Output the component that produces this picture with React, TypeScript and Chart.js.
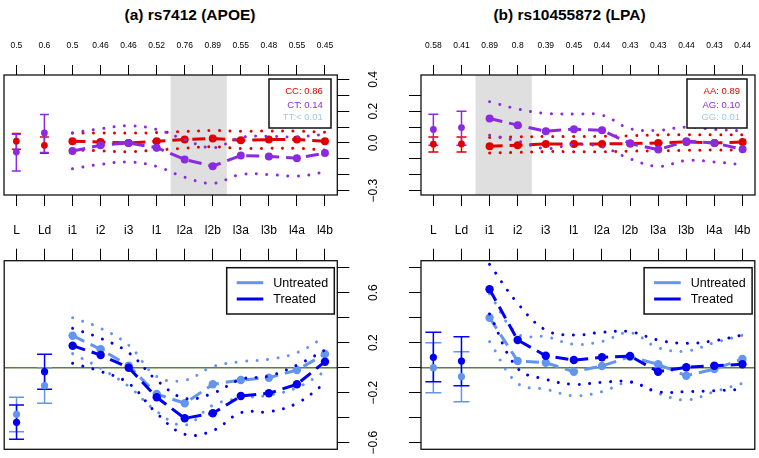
import React, { useEffect, useRef } from 'react';
import { Chart, registerables } from 'chart.js';

Chart.register(...registerables);

const FONT = '"Liberation Sans", Arial, Helvetica, sans-serif';

// ---------- shared axes ----------
const categories = ['L', 'Ld', 'i1', 'i2', 'i3', 'l1', 'l2a', 'l2b', 'l3a', 'l3b', 'l4a', 'l4b'];
const freqAPOE = ['0.5', '0.6', '0.5', '0.46', '0.46', '0.52', '0.76', '0.89', '0.55', '0.48', '0.55', '0.45'];
const freqLPA = ['0.58', '0.41', '0.89', '0.8', '0.39', '0.45', '0.44', '0.43', '0.43', '0.44', '0.43', '0.44'];

const yTicksTopLeft = [-0.3, -0.2, -0.1, 0, 0.1, 0.2, 0.3, 0.4];
const yTicksTopRight = [-0.3, -0.2, -0.1, 0, 0.1, 0.2, 0.3];
const yLabelValsTop = [0.4, 0.2, 0, -0.3];
const yLabelTextsTop = ['0.4', '0.2', '0.0', '\u22120.3'];
const yTicksBottom = [-0.6, -0.4, -0.2, 0, 0.2, 0.4, 0.6, 0.8];
const yLabelValsBottom = [0.6, 0.2, -0.2, -0.6];
const yLabelTextsBottom = ['0.6', '0.2', '\u22120.2', '\u22120.6'];

const bandAPOE = [6.5, 8.5];
const bandLPA = [2.5, 4.5];

// ---------- (a) rs7412 genotype ----------
const apoeCC = [0.011, -0.015, 0.011, 0.006, 0.0, 0.011, 0.021, 0.028, 0.017, 0.021, 0.021, 0.011];
const apoeCCErrLo = [-0.04, -0.065];
const apoeCCErrHi = [0.06, 0.038];
const apoeCCHi = [0.063, 0.063, 0.062, 0.065, 0.072, 0.078, 0.074, 0.075, 0.074, 0.068];
const apoeCCLo = [-0.043, -0.05, -0.055, -0.045, -0.033, -0.024, -0.035, -0.034, -0.034, -0.045];

const apoeCT = [-0.057, 0.063, -0.051, -0.015, 0.0, -0.03, -0.104, -0.147, -0.079, -0.085, -0.096, -0.064];
const apoeCTErrLo = [-0.177, -0.06];
const apoeCTErrHi = [0.055, 0.179];
const apoeCTHi = [0.063, 0.089, 0.108, 0.085, 0.021, -0.03, 0.034, 0.042, 0.038, 0.055];
const apoeCTLo = [-0.163, -0.135, -0.12, -0.148, -0.216, -0.254, -0.199, -0.199, -0.209, -0.184];

// ---------- (b) rs10455872 genotype ----------
const lpaAA = [-0.008, -0.006, -0.021, -0.015, -0.006, -0.006, -0.006, -0.004, 0.0, 0.006, 0.0, 0.006];
const lpaAAErrLo = [-0.057, -0.057];
const lpaAAErrHi = [0.038, 0.038];
const lpaAAHi = [0.034, 0.038, 0.04, 0.04, 0.042, 0.045, 0.05, 0.052, 0.052, 0.052];
const lpaAALo = [-0.063, -0.06, -0.055, -0.055, -0.055, -0.052, -0.05, -0.047, -0.045, -0.045];

const lpaAG = [0.085, 0.097, 0.154, 0.112, 0.074, 0.087, 0.08, -0.004, -0.042, 0.011, 0.0, -0.04];
const lpaAGErrLo = [-0.015, -0.015];
const lpaAGErrHi = [0.18, 0.2];
const lpaAGHi = [0.26, 0.214, 0.186, 0.182, 0.175, 0.09, 0.08, 0.1, 0.085, 0.076];
const lpaAGLo = [0.048, 0.012, -0.036, -0.01, -0.025, -0.1, -0.148, -0.11, -0.12, -0.137];

// ---------- (a) rs7412 treatment ----------
const apoeUnt = [-0.373, -0.144, 0.256, 0.147, 0.016, -0.211, -0.285, -0.133, -0.099, -0.08, -0.019, 0.109];
const apoeUntErrLo = [-0.512, -0.285];
const apoeUntErrHi = [-0.237, 0.0];
const apoeUntHi = [0.4, 0.315, 0.18, -0.07, -0.1, 0.008, 0.048, 0.067, 0.12, 0.248];
const apoeUntLo = [0.112, -0.005, -0.15, -0.35, -0.46, -0.3, -0.245, -0.22, -0.16, -0.03];

const apoeTrt = [-0.437, -0.032, 0.176, 0.101, 0.0, -0.237, -0.405, -0.365, -0.227, -0.205, -0.133, 0.048];
const apoeTrtErrLo = [-0.573, -0.173];
const apoeTrtErrHi = [-0.299, 0.107];
const apoeTrtHi = [0.315, 0.235, 0.12, -0.1, -0.245, -0.205, -0.093, -0.067, 0.021, 0.141];
const apoeTrtLo = [0.035, -0.03, -0.125, -0.365, -0.533, -0.504, -0.36, -0.352, -0.285, -0.125];

// ---------- (b) rs10455872 treatment ----------
const lpaUnt = [0.0, -0.072, 0.4, 0.053, 0.04, -0.032, 0.013, 0.088, 0.027, -0.064, -0.011, 0.069];
const lpaUntErrLo = [-0.2, -0.272];
const lpaUntErrHi = [0.2, 0.128];
const lpaUntHi = [0.59, 0.27, 0.248, 0.187, 0.21, 0.28, 0.16, 0.133, 0.2, 0.26];
const lpaUntLo = [0.208, -0.125, -0.173, -0.224, -0.192, -0.117, -0.205, -0.259, -0.192, -0.125];

const lpaTrt = [0.083, 0.053, 0.627, 0.221, 0.096, 0.061, 0.083, 0.093, -0.032, 0.003, 0.016, 0.027];
const lpaTrtErrLo = [-0.112, -0.144];
const lpaTrtErrHi = [0.283, 0.248];
const lpaTrtHi = [0.827, 0.515, 0.301, 0.261, 0.283, 0.288, 0.221, 0.195, 0.216, 0.261];
const lpaTrtLo = [0.43, -0.005, -0.093, -0.133, -0.117, -0.112, -0.192, -0.192, -0.184, -0.173];

// ---------- legends ----------
const genoLegendAPOE = ['CC: 0.86', 'CT: 0.14', 'TT:< 0.01'];
const genoLegendLPA = ['AA: 0.89', 'AG: 0.10', 'GG: 0.01'];
const trtLegend = ['Untreated', 'Treated'];

const RED = '#e00000';
const PURPLE = '#8a2be2';
const LBLUE = '#9fcbe6';
const UNT = '#6495ed';
const TRT = '#0000ee';
const ZERO = '#5f7f3c';
const BAND = '#dfdfdf';

type Series = {
  color: string;
  main: number[];
  errLo: number[];
  errHi: number[];
  hi: number[];
  lo: number[];
};

type PanelCfg = {
  left: number;
  top: number;
  width: number;
  height: number;
  area: { l: number; r: number; t: number; b: number };
  yMin: number;
  yMax: number;
  yTicks: number[];
  ySide: 'left' | 'right';
  yLabelVals?: number[];
  yLabelTexts?: string[];
  yLabelX?: number;
  topLabels: string[];
  topFont: number;
  topPad: number;
  topTick: number;
  bottomTicks: boolean;
  band?: number[];
  zero: boolean;
  series: Series[];
  capHalf: number;
  pointR: number;
  errPointR: number;
  legend:
    | { kind: 'geno'; texts: string[]; colors: string[]; rInset: number; tInset: number; w: number; h: number; textInset: number }
    | { kind: 'trt'; texts: string[]; colors: string[]; rInset: number; tInset: number; w: number; h: number };
};

const X_MIN = 0.56;
const X_MAX = 12.44;

function buildDatasets(cfg: PanelCfg) {
  const ds: any[] = [];
  cfg.series.forEach((s, k) => {
    const base = 50 - 10 * k;
    const inner = (arr: number[]) => arr.map((v, i) => ({ x: i + 3, y: v }));
    const dotted = {
      type: 'line',
      borderColor: s.color,
      borderWidth: 3,
      borderDash: [0.01, 10.5],
      borderCapStyle: 'round',
      pointRadius: 0,
      pointHoverRadius: 0,
      tension: 0.4,
      fill: false,
      order: base + 2,
    };
    ds.push({ ...dotted, data: inner(s.hi) });
    ds.push({ ...dotted, data: inner(s.lo) });
    ds.push({
      type: 'line',
      data: s.main.slice(2).map((v, i) => ({ x: i + 3, y: v })),
      borderColor: s.color,
      borderWidth: 3,
      borderDash: [13, 7],
      pointRadius: cfg.pointR,
      pointHoverRadius: cfg.pointR,
      pointBackgroundColor: s.color,
      pointBorderColor: s.color,
      pointBorderWidth: 0,
      tension: 0,
      fill: false,
      order: base + 1,
    });
    ds.push({
      type: 'line',
      data: s.main.slice(0, 2).map((v, i) => ({ x: i + 1, y: v })),
      showLine: false,
      pointRadius: cfg.errPointR,
      pointHoverRadius: cfg.errPointR,
      pointBackgroundColor: s.color,
      pointBorderColor: s.color,
      pointBorderWidth: 0,
      order: base,
    });
  });
  return ds;
}

function Panel({ cfg }: { cfg: PanelCfg }) {
  const ref = useRef<HTMLCanvasElement | null>(null);
  useEffect(() => {
    const canvas = ref.current;
    if (!canvas) return;
    const catTicks = (s: any) => {
      s.ticks = categories.map((_, i) => ({ value: i + 1 }));
    };
    const plugin = {
      id: 'panelDecor',
      beforeDatasetsDraw(chart: any) {
        const { ctx, chartArea: a, scales } = chart;
        const xs = scales.x;
        const ys = scales.y;
        ctx.save();
        if (cfg.band) {
          const x1 = xs.getPixelForValue(cfg.band[0]);
          const x2 = xs.getPixelForValue(cfg.band[1]);
          ctx.fillStyle = BAND;
          ctx.fillRect(x1, a.top, x2 - x1, a.bottom - a.top);
        }
        if (cfg.zero) {
          const y0 = ys.getPixelForValue(0);
          ctx.strokeStyle = ZERO;
          ctx.lineWidth = 1.4;
          ctx.beginPath();
          ctx.moveTo(a.left, y0);
          ctx.lineTo(a.right, y0);
          ctx.stroke();
        }
        cfg.series.forEach((s) => {
          ctx.strokeStyle = s.color;
          ctx.lineWidth = 1.5;
          for (let i = 0; i < 2; i++) {
            const x = xs.getPixelForValue(i + 1);
            const yl = ys.getPixelForValue(s.errLo[i]);
            const yh = ys.getPixelForValue(s.errHi[i]);
            ctx.beginPath();
            ctx.moveTo(x, yl);
            ctx.lineTo(x, yh);
            ctx.moveTo(x - cfg.capHalf, yl);
            ctx.lineTo(x + cfg.capHalf, yl);
            ctx.moveTo(x - cfg.capHalf, yh);
            ctx.lineTo(x + cfg.capHalf, yh);
            ctx.stroke();
          }
        });
        ctx.restore();
      },
      afterDatasetsDraw(chart: any) {
        const { ctx, chartArea: a, scales } = chart;
        const ys = scales.y;
        ctx.save();
        // plot box
        ctx.strokeStyle = '#111';
        ctx.lineWidth = 1.3;
        ctx.strokeRect(a.left, a.top, a.right - a.left, a.bottom - a.top);
        // legend
        const lg = cfg.legend;
        const bx = a.right - lg.rInset - lg.w;
        const by = a.top + lg.tInset;
        ctx.fillStyle = '#fff';
        ctx.fillRect(bx, by, lg.w, lg.h);
        ctx.strokeStyle = '#111';
        ctx.lineWidth = 1.5;
        ctx.strokeRect(bx, by, lg.w, lg.h);
        if (lg.kind === 'geno') {
          ctx.font = `9.5px ${FONT}`;
          ctx.textAlign = 'right';
          ctx.textBaseline = 'middle';
          const rows = [12.7, 26, 38.5];
          lg.texts.forEach((t, i) => {
            ctx.fillStyle = lg.colors[i];
            ctx.fillText(t, bx + lg.w - lg.textInset, by + rows[i]);
          });
        } else {
          ctx.font = `12.5px ${FONT}`;
          ctx.textAlign = 'left';
          ctx.textBaseline = 'middle';
          const rows = [15, 31.3];
          lg.texts.forEach((t, i) => {
            ctx.strokeStyle = lg.colors[i];
            ctx.lineWidth = 3;
            ctx.beginPath();
            ctx.moveTo(bx + 10, by + rows[i]);
            ctx.lineTo(bx + 36.6, by + rows[i]);
            ctx.stroke();
            ctx.fillStyle = '#000';
            ctx.fillText(t, bx + 46.6, by + rows[i] + 0.5);
          });
        }
        // rotated y labels
        if (cfg.yLabelVals && cfg.yLabelTexts && cfg.yLabelX !== undefined) {
          ctx.font = `12px ${FONT}`;
          ctx.fillStyle = '#000';
          ctx.textAlign = 'center';
          ctx.textBaseline = 'middle';
          cfg.yLabelVals.forEach((v, i) => {
            const y = ys.getPixelForValue(v);
            ctx.save();
            ctx.translate(cfg.yLabelX as number, y);
            ctx.rotate(-Math.PI / 2);
            ctx.fillText((cfg.yLabelTexts as string[])[i], 0, 0);
            ctx.restore();
          });
        }
        ctx.restore();
      },
    };

    const scales: any = {
      x: {
        type: 'linear',
        position: 'top',
        min: X_MIN,
        max: X_MAX,
        afterBuildTicks: catTicks,
        afterFit: (s: any) => {
          s.height = cfg.area.t;
          s.paddingLeft = 0;
          s.paddingRight = 0;
        },
        ticks: {
          callback: (v: any) => cfg.topLabels[Math.round(Number(v)) - 1] ?? '',
          font: { family: FONT, size: cfg.topFont },
          color: '#000',
          padding: cfg.topPad,
          maxRotation: 0,
          minRotation: 0,
          autoSkip: false,
        },
        grid: { drawOnChartArea: false, drawTicks: true, tickLength: cfg.topTick, color: '#000', lineWidth: 1 },
        border: { display: false },
      },
      y: {
        type: 'linear',
        position: cfg.ySide,
        min: cfg.yMin,
        max: cfg.yMax,
        afterBuildTicks: (s: any) => {
          s.ticks = cfg.yTicks.map((v) => ({ value: v }));
        },
        afterFit: (s: any) => {
          s.width = cfg.ySide === 'right' ? cfg.width - cfg.area.r : cfg.area.l;
          s.paddingTop = 0;
          s.paddingBottom = 0;
        },
        ticks: { display: false },
        grid: { drawOnChartArea: false, drawTicks: true, tickLength: 12, color: '#000', lineWidth: 1 },
        border: { display: false },
      },
    };
    if (cfg.bottomTicks) {
      scales.x2 = {
        type: 'linear',
        position: 'bottom',
        min: X_MIN,
        max: X_MAX,
        afterBuildTicks: catTicks,
        afterFit: (s: any) => {
          s.height = cfg.height - cfg.area.b;
          s.paddingLeft = 0;
          s.paddingRight = 0;
        },
        ticks: { display: false },
        grid: { drawOnChartArea: false, drawTicks: true, tickLength: 11, color: '#000', lineWidth: 1 },
        border: { display: false },
      };
    }

    const chart = new Chart(canvas, {
      type: 'line',
      data: { datasets: buildDatasets(cfg) },
      options: {
        responsive: false,
        animation: false,
        devicePixelRatio: 1,
        events: [],
        layout: {
          padding: {
            left: cfg.ySide === 'right' ? cfg.area.l : 0,
            right: cfg.ySide === 'left' ? cfg.width - cfg.area.r : 0,
            top: 0,
            bottom: cfg.bottomTicks ? 0 : cfg.height - cfg.area.b,
          },
        },
        plugins: { legend: { display: false }, tooltip: { enabled: false }, title: { display: false } },
        scales,
      } as any,
      plugins: [plugin as any],
    } as any);
    return () => chart.destroy();
  }, [cfg]);

  return (
    <canvas
      ref={ref}
      width={cfg.width}
      height={cfg.height}
      style={{ position: 'absolute', left: cfg.left, top: cfg.top, width: cfg.width, height: cfg.height }}
    />
  );
}

const seriesAPOEGeno: Series[] = [
  { color: RED, main: apoeCC, errLo: apoeCCErrLo, errHi: apoeCCErrHi, hi: apoeCCHi, lo: apoeCCLo },
  { color: PURPLE, main: apoeCT, errLo: apoeCTErrLo, errHi: apoeCTErrHi, hi: apoeCTHi, lo: apoeCTLo },
];
const seriesLPAGeno: Series[] = [
  { color: RED, main: lpaAA, errLo: lpaAAErrLo, errHi: lpaAAErrHi, hi: lpaAAHi, lo: lpaAALo },
  { color: PURPLE, main: lpaAG, errLo: lpaAGErrLo, errHi: lpaAGErrHi, hi: lpaAGHi, lo: lpaAGLo },
];
const seriesAPOETrt: Series[] = [
  { color: UNT, main: apoeUnt, errLo: apoeUntErrLo, errHi: apoeUntErrHi, hi: apoeUntHi, lo: apoeUntLo },
  { color: TRT, main: apoeTrt, errLo: apoeTrtErrLo, errHi: apoeTrtErrHi, hi: apoeTrtHi, lo: apoeTrtLo },
];
const seriesLPATrt: Series[] = [
  { color: UNT, main: lpaUnt, errLo: lpaUntErrLo, errHi: lpaUntErrHi, hi: lpaUntHi, lo: lpaUntLo },
  { color: TRT, main: lpaTrt, errLo: lpaTrtErrLo, errHi: lpaTrtErrHi, hi: lpaTrtHi, lo: lpaTrtLo },
];

const TOP_Y = { yMin: -0.328, yMax: 0.428 };
const BOT_Y = { yMin: -0.653, yMax: 0.856 };

const panels: PanelCfg[] = [
  {
    left: 0, top: 0, width: 380, height: 215,
    area: { l: 3, r: 337.3, t: 75, b: 195 },
    ...TOP_Y, yTicks: yTicksTopLeft, ySide: 'right',
    yLabelVals: yLabelValsTop, yLabelTexts: yLabelTextsTop, yLabelX: 373.3,
    topLabels: freqAPOE, topFont: 8.5, topPad: 14, topTick: 10,
    bottomTicks: true, band: bandAPOE, zero: false,
    series: seriesAPOEGeno, capHalf: 4.5, pointR: 4, errPointR: 3.4,
    legend: { kind: 'geno', texts: genoLegendAPOE, colors: [RED, PURPLE, LBLUE], rInset: 6.3, tInset: 4, w: 62, h: 49, textInset: 8.3 },
  },
  {
    left: 380, top: 0, width: 379, height: 215,
    area: { l: 41, r: 375, t: 75, b: 195 },
    ...TOP_Y, yTicks: yTicksTopRight, ySide: 'left',
    topLabels: freqLPA, topFont: 8.5, topPad: 14, topTick: 10,
    bottomTicks: true, band: bandLPA, zero: false,
    series: seriesLPAGeno, capHalf: 5, pointR: 4, errPointR: 3.4,
    legend: { kind: 'geno', texts: genoLegendLPA, colors: [RED, PURPLE, LBLUE], rInset: 8, tInset: 4, w: 60, h: 49, textInset: 7 },
  },
  {
    left: 0, top: 215, width: 380, height: 243,
    area: { l: 3, r: 337.3, t: 45.7, b: 234.3 },
    ...BOT_Y, yTicks: yTicksBottom, ySide: 'right',
    yLabelVals: yLabelValsBottom, yLabelTexts: yLabelTextsBottom, yLabelX: 373.3,
    topLabels: categories, topFont: 12, topPad: 10.5, topTick: 12,
    bottomTicks: false, zero: true,
    series: seriesAPOETrt, capHalf: 7.5, pointR: 4.2, errPointR: 3.6,
    legend: { kind: 'trt', texts: trtLegend, colors: [UNT, TRT], rInset: 3, tInset: 7, w: 107.6, h: 46.3 },
  },
  {
    left: 380, top: 215, width: 379, height: 243,
    area: { l: 41, r: 375, t: 45.7, b: 234.3 },
    ...BOT_Y, yTicks: yTicksBottom, ySide: 'left',
    topLabels: categories, topFont: 12, topPad: 10.5, topTick: 12,
    bottomTicks: false, zero: true,
    series: seriesLPATrt, capHalf: 8, pointR: 4.2, errPointR: 3.6,
    legend: { kind: 'trt', texts: trtLegend, colors: [UNT, TRT], rInset: 2.7, tInset: 7, w: 108, h: 46.3 },
  },
];

const titleStyle: React.CSSProperties = {
  position: 'absolute',
  top: 6,
  width: 380,
  textAlign: 'center',
  fontFamily: FONT,
  fontWeight: 'bold',
  fontSize: 15.5,
  lineHeight: '18px',
  color: '#000',
};

export default function App() {
  return (
    <div style={{ position: 'fixed', left: 0, top: 0, width: 759, height: 458, background: '#fff', overflow: 'hidden' }}>
      <div style={{ ...titleStyle, left: 0 }}>(a) rs7412 (APOE)</div>
      <div style={{ ...titleStyle, left: 380, width: 379 }}>(b) rs10455872 (LPA)</div>
      {panels.map((p, i) => (
        <Panel key={i} cfg={p} />
      ))}
    </div>
  );
}
